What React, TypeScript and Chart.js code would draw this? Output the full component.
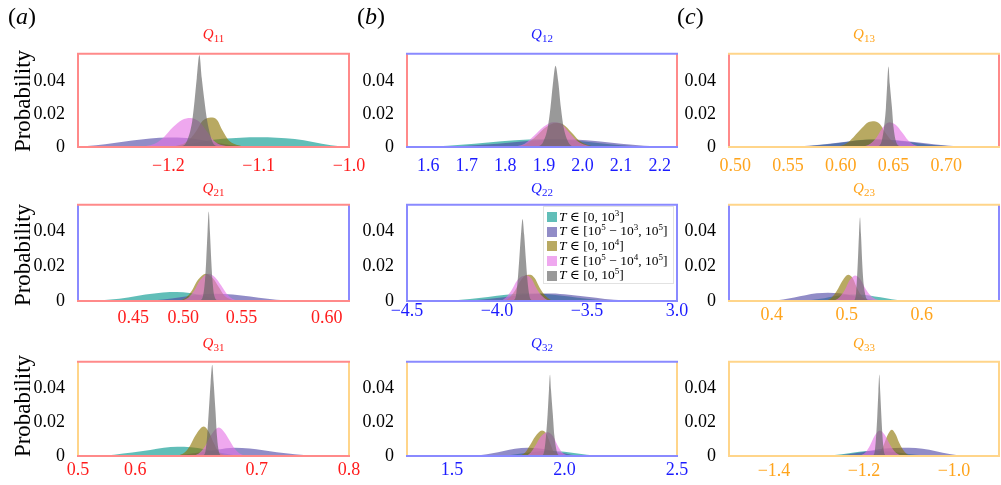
import React, { useEffect, useRef } from "react";
import { Chart, registerables } from "chart.js";
Chart.register(...registerables);

type Pt = [number, number];

// ---------- series meta ----------
const seriesLegend = ["[0, 10^3]", "[10^5 − 10^3, 10^5]", "[0, 10^4]", "[10^5 − 10^4, 10^5]", "[0, 10^5]"];
const seriesFill = [
  "rgba(0,150,141,0.62)",
  "rgba(77,69,164,0.62)",
  "rgba(141,117,1,0.62)",
  "rgba(229,115,229,0.62)",
  "rgba(98,98,98,0.65)",
];
const seriesOrder = [5, 4, 3, 2, 1];

// ---------- axis ticks ----------
const yTicks = [0, 0.02, 0.04];
const yTickLabels = ["0", "0.02", "0.04"];

const q11Range = [-1.3, -1.0];
const q11Ticks = [-1.2, -1.1, -1.0];
const q11Labels = ["−1.2", "−1.1", "−1.0"];
const q12Range = [1.545, 2.245];
const q12Ticks = [1.6, 1.7, 1.8, 1.9, 2.0, 2.1, 2.2];
const q12Labels = ["1.6", "1.7", "1.8", "1.9", "2.0", "2.1", "2.2"];
const q13Range = [0.494, 0.75];
const q13Ticks = [0.5, 0.55, 0.6, 0.65, 0.7];
const q13Labels = ["0.50", "0.55", "0.60", "0.65", "0.70"];
const q21Range = [0.4095, 0.6425];
const q21Ticks = [0.457, 0.5, 0.55, 0.6234];
const q21Labels = ["0.45", "0.50", "0.55", "0.60"];
const q22Range = [-4.5, -3.0];
const q22Ticks = [-4.5, -4.0, -3.5, -3.0];
const q22Labels = ["−4.5", "−4.0", "−3.5", "3.0"];
const q23Range = [0.343, 0.703];
const q23Ticks = [0.4, 0.5, 0.6];
const q23Labels = ["0.4", "0.5", "0.6"];
const q31Range = [0.5, 0.8];
const q31Ticks = [0.5, 0.5633, 0.6978, 0.8];
const q31Labels = ["0.5", "0.6", "0.7", "0.8"];
const q32Range = [1.3, 2.5];
const q32Ticks = [1.5, 2.0, 2.5];
const q32Labels = ["1.5", "2.0", "2.5"];
const q33Range = [-1.5, -0.9];
const q33Ticks = [-1.4, -1.2, -1.0];
const q33Labels = ["−1.4", "−1.2", "−1.0"];

// ---------- data (x, probability) ----------
const q11Teal: Pt[] = [[-1.2, 0], [-1.18, 0.0015], [-1.16, 0.0035], [-1.14, 0.005], [-1.12, 0.0057], [-1.1, 0.0059], [-1.08, 0.0057], [-1.06, 0.0048], [-1.04, 0.003], [-1.02, 0.001], [-1.0, 0]];
const q11Slate: Pt[] = [[-1.3, 0.0003], [-1.28, 0.001], [-1.26, 0.0025], [-1.24, 0.004], [-1.22, 0.0052], [-1.2, 0.0058], [-1.18, 0.0055], [-1.16, 0.004], [-1.14, 0.002], [-1.12, 0.0005], [-1.1, 0]];
const q11Olive: Pt[] = [[-1.195, 0], [-1.18, 0.003], [-1.17, 0.009], [-1.162, 0.016], [-1.153, 0.018], [-1.146, 0.0165], [-1.14, 0.01], [-1.133, 0.004], [-1.122, 0.001], [-1.11, 0]];
const q11Pink: Pt[] = [[-1.235, 0], [-1.215, 0.002], [-1.205, 0.006], [-1.195, 0.012], [-1.185, 0.0165], [-1.1756, 0.0177], [-1.166, 0.0155], [-1.158, 0.01], [-1.15, 0.004], [-1.14, 0.001], [-1.125, 0]];
const q11Gray: Pt[] = [[-1.186, 0], [-1.18, 0.003], [-1.1735, 0.016], [-1.171, 0.028], [-1.1685, 0.042], [-1.1656, 0.056], [-1.163, 0.042], [-1.16, 0.028], [-1.157, 0.016], [-1.151, 0.003], [-1.145, 0]];

const q12Teal: Pt[] = [[1.58, 0], [1.65, 0.0008], [1.72, 0.002], [1.79, 0.0035], [1.86, 0.0045], [1.92, 0.0047], [1.98, 0.004], [2.04, 0.0025], [2.1, 0.001], [2.16, 0.0002], [2.2, 0]];
const q12Slate: Pt[] = [[1.62, 0], [1.7, 0.0008], [1.78, 0.002], [1.85, 0.0035], [1.92, 0.0046], [1.98, 0.0045], [2.04, 0.0035], [2.1, 0.002], [2.16, 0.0008], [2.22, 0.0002], [2.245, 0]];
const q12Olive: Pt[] = [[1.826, 0], [1.856, 0.002], [1.881, 0.0068], [1.906, 0.0121], [1.931, 0.0146], [1.951, 0.0136], [1.971, 0.009], [1.991, 0.004], [2.016, 0.001], [2.036, 0]];
const q12Pink: Pt[] = [[1.82, 0], [1.85, 0.002], [1.875, 0.007], [1.9, 0.0125], [1.925, 0.0151], [1.945, 0.014], [1.965, 0.009], [1.985, 0.004], [2.01, 0.001], [2.03, 0]];
const q12Gray: Pt[] = [[1.885, 0], [1.898, 0.003], [1.91, 0.012], [1.917, 0.024], [1.924, 0.04], [1.93, 0.0494], [1.937, 0.04], [1.944, 0.024], [1.951, 0.012], [1.963, 0.003], [1.975, 0]];

const q13Teal: Pt[] = [[0.55, 0], [0.57, 0.0006], [0.59, 0.0018], [0.61, 0.0035], [0.627, 0.0045], [0.645, 0.0042], [0.665, 0.003], [0.685, 0.0013], [0.705, 0.0004], [0.72, 0]];
const q13Slate: Pt[] = [[0.55, 0], [0.575, 0.001], [0.595, 0.0025], [0.615, 0.004], [0.632, 0.0046], [0.65, 0.0043], [0.67, 0.003], [0.69, 0.0015], [0.71, 0.0005], [0.73, 0]];
const q13Olive: Pt[] = [[0.595, 0], [0.605, 0.002], [0.612, 0.006], [0.62, 0.0115], [0.626, 0.015], [0.6317, 0.0157], [0.637, 0.014], [0.642, 0.009], [0.648, 0.004], [0.655, 0.001], [0.662, 0]];
const q13Pink: Pt[] = [[0.62, 0], [0.628, 0.002], [0.634, 0.006], [0.64, 0.012], [0.646, 0.0151], [0.652, 0.0135], [0.658, 0.009], [0.664, 0.004], [0.67, 0.0012], [0.678, 0]];
const q13Gray: Pt[] = [[0.634, 0], [0.6385, 0.003], [0.641, 0.012], [0.6428, 0.024], [0.644, 0.038], [0.6452, 0.049], [0.6465, 0.038], [0.6485, 0.024], [0.65, 0.012], [0.6525, 0.003], [0.657, 0]];

const q21Teal: Pt[] = [[0.4225, 0], [0.4375, 0.0008], [0.4525, 0.002], [0.4675, 0.0037], [0.4825, 0.0049], [0.4945, 0.0052], [0.5055, 0.0046], [0.5155, 0.0032], [0.5255, 0.0015], [0.5355, 0.0004], [0.5455, 0]];
const q21Slate: Pt[] = [[0.4675, 0], [0.4825, 0.0008], [0.4975, 0.0022], [0.5125, 0.0036], [0.5275, 0.0042], [0.5425, 0.0038], [0.5575, 0.0026], [0.5725, 0.0013], [0.5875, 0.0004], [0.6025, 0]];
const q21Olive: Pt[] = [[0.4955, 0], [0.5025, 0.002], [0.5075, 0.006], [0.5125, 0.012], [0.5195, 0.0157], [0.5255, 0.013], [0.5305, 0.008], [0.5355, 0.003], [0.5405, 0.001], [0.5455, 0]];
const q21Pink: Pt[] = [[0.4975, 0], [0.5045, 0.002], [0.5095, 0.006], [0.5145, 0.012], [0.5219, 0.0157], [0.5275, 0.0135], [0.5325, 0.009], [0.5375, 0.004], [0.5425, 0.0012], [0.5495, 0]];
const q21Gray: Pt[] = [[0.514, 0], [0.517, 0.003], [0.5187, 0.012], [0.5197, 0.023], [0.5209, 0.04], [0.5219, 0.0514], [0.5229, 0.04], [0.5241, 0.023], [0.5251, 0.012], [0.5267, 0.003], [0.53, 0]];

const q22Teal: Pt[] = [[-4.3, 0], [-4.2, 0.0007], [-4.1, 0.0017], [-4.0, 0.003], [-3.9, 0.004], [-3.8, 0.0043], [-3.7, 0.0038], [-3.6, 0.0026], [-3.5, 0.0013], [-3.4, 0.0004], [-3.3, 0]];
const q22Slate: Pt[] = [[-4.2, 0], [-4.1, 0.0007], [-4.0, 0.0017], [-3.9, 0.003], [-3.8, 0.004], [-3.7, 0.0043], [-3.6, 0.0036], [-3.5, 0.0024], [-3.4, 0.0012], [-3.3, 0.0004], [-3.2, 0]];
const q22Olive: Pt[] = [[-3.96, 0], [-3.93, 0.002], [-3.9, 0.006], [-3.87, 0.0115], [-3.84, 0.0148], [-3.815, 0.0151], [-3.79, 0.013], [-3.765, 0.008], [-3.74, 0.004], [-3.71, 0.0012], [-3.68, 0]];
const q22Pink: Pt[] = [[-3.98, 0], [-3.95, 0.002], [-3.92, 0.006], [-3.89, 0.0115], [-3.86, 0.0142], [-3.835, 0.0147], [-3.81, 0.013], [-3.785, 0.008], [-3.76, 0.004], [-3.73, 0.0012], [-3.7, 0]];
const q22Gray: Pt[] = [[-3.91, 0], [-3.895, 0.003], [-3.885, 0.012], [-3.877, 0.023], [-3.867, 0.038], [-3.858, 0.047], [-3.849, 0.038], [-3.839, 0.023], [-3.831, 0.012], [-3.82, 0.003], [-3.805, 0]];

const q23Teal: Pt[] = [[0.44, 0], [0.455, 0.0007], [0.47, 0.0016], [0.485, 0.0028], [0.5, 0.0036], [0.515, 0.0038], [0.53, 0.0032], [0.545, 0.0021], [0.56, 0.001], [0.575, 0.0003], [0.59, 0]];
const q23Slate: Pt[] = [[0.4, 0], [0.415, 0.0008], [0.43, 0.002], [0.445, 0.0033], [0.46, 0.0044], [0.475, 0.0048], [0.49, 0.0044], [0.505, 0.0033], [0.52, 0.0018], [0.535, 0.0006], [0.55, 0]];
const q23Olive: Pt[] = [[0.472, 0], [0.48, 0.002], [0.487, 0.006], [0.494, 0.0115], [0.502, 0.0151], [0.508, 0.013], [0.513, 0.008], [0.518, 0.004], [0.524, 0.001], [0.53, 0]];
const q23Pink: Pt[] = [[0.482, 0], [0.49, 0.002], [0.497, 0.006], [0.504, 0.012], [0.511, 0.0147], [0.518, 0.0125], [0.525, 0.007], [0.532, 0.003], [0.54, 0.0008], [0.548, 0]];
const q23Gray: Pt[] = [[0.509, 0], [0.512, 0.003], [0.5135, 0.012], [0.5148, 0.023], [0.5163, 0.038], [0.5177, 0.048], [0.519, 0.038], [0.5205, 0.023], [0.522, 0.012], [0.525, 0.003], [0.529, 0]];

const q31Teal: Pt[] = [[0.52, 0], [0.54, 0.0008], [0.56, 0.002], [0.58, 0.0035], [0.595, 0.0048], [0.61, 0.0054], [0.625, 0.0052], [0.64, 0.004], [0.655, 0.0022], [0.67, 0.0008], [0.685, 0]];
const q31Slate: Pt[] = [[0.6, 0], [0.62, 0.001], [0.64, 0.0025], [0.655, 0.0038], [0.673, 0.0048], [0.69, 0.0044], [0.705, 0.0034], [0.72, 0.0022], [0.74, 0.001], [0.76, 0.0003], [0.775, 0]];
const q31Olive: Pt[] = [[0.61, 0], [0.618, 0.002], [0.624, 0.006], [0.63, 0.012], [0.6393, 0.0173], [0.645, 0.014], [0.65, 0.008], [0.655, 0.003], [0.66, 0.001], [0.666, 0]];
const q31Pink: Pt[] = [[0.628, 0], [0.635, 0.002], [0.641, 0.006], [0.647, 0.012], [0.656, 0.0168], [0.662, 0.014], [0.668, 0.009], [0.674, 0.004], [0.68, 0.0012], [0.688, 0]];
const q31Gray: Pt[] = [[0.638, 0], [0.6412, 0.003], [0.643, 0.012], [0.6448, 0.0266], [0.6468, 0.043], [0.6486, 0.0537], [0.6502, 0.043], [0.6522, 0.0266], [0.6538, 0.012], [0.6558, 0.003], [0.659, 0]];

const q32Teal: Pt[] = [[1.7, 0], [1.75, 0.0005], [1.8, 0.0013], [1.85, 0.0022], [1.9, 0.0029], [1.95, 0.003], [2.0, 0.0025], [2.05, 0.0016], [2.1, 0.0008], [2.15, 0.0002], [2.18, 0]];
const q32Slate: Pt[] = [[1.58, 0], [1.63, 0.0006], [1.68, 0.0016], [1.73, 0.003], [1.78, 0.0042], [1.836, 0.0048], [1.88, 0.0045], [1.93, 0.0035], [1.98, 0.002], [2.03, 0.0008], [2.08, 0]];
const q32Olive: Pt[] = [[1.8, 0], [1.825, 0.002], [1.845, 0.006], [1.87, 0.0115], [1.9, 0.015], [1.92, 0.013], [1.935, 0.008], [1.95, 0.003], [1.965, 0.001], [1.98, 0]];
const q32Pink: Pt[] = [[1.83, 0], [1.85, 0.002], [1.87, 0.006], [1.895, 0.0115], [1.925, 0.014], [1.95, 0.0115], [1.97, 0.006], [1.99, 0.002], [2.01, 0.0005], [2.03, 0]];
const q32Gray: Pt[] = [[1.9, 0], [1.91, 0.003], [1.918, 0.012], [1.925, 0.0247], [1.931, 0.039], [1.9356, 0.048], [1.94, 0.039], [1.948, 0.0247], [1.955, 0.012], [1.965, 0.003], [1.978, 0]];

const q33Teal: Pt[] = [[-1.29, 0], [-1.26, 0.0007], [-1.23, 0.0017], [-1.2, 0.0028], [-1.18, 0.003], [-1.16, 0.0029], [-1.13, 0.0022], [-1.1, 0.0012], [-1.07, 0.0004], [-1.04, 0]];
const q33Slate: Pt[] = [[-1.28, 0], [-1.25, 0.0006], [-1.22, 0.0016], [-1.19, 0.003], [-1.16, 0.0042], [-1.13, 0.0047], [-1.1, 0.0048], [-1.07, 0.0042], [-1.04, 0.0028], [-1.01, 0.0012], [-0.98, 0]];
const q33Olive: Pt[] = [[-1.175, 0], [-1.165, 0.002], [-1.157, 0.006], [-1.148, 0.012], [-1.1385, 0.0155], [-1.13, 0.013], [-1.122, 0.008], [-1.114, 0.004], [-1.105, 0.0012], [-1.095, 0]];
const q33Pink: Pt[] = [[-1.21, 0], [-1.197, 0.002], [-1.187, 0.006], [-1.176, 0.012], [-1.165, 0.015], [-1.154, 0.0125], [-1.143, 0.007], [-1.133, 0.003], [-1.122, 0.0008], [-1.11, 0]];
const q33Gray: Pt[] = [[-1.181, 0], [-1.176, 0.003], [-1.173, 0.012], [-1.1704, 0.024], [-1.168, 0.038], [-1.166, 0.048], [-1.164, 0.038], [-1.1615, 0.024], [-1.159, 0.012], [-1.156, 0.003], [-1.151, 0]];

const panels = [
  { sub: "11", range: q11Range, ticks: q11Ticks, labels: q11Labels, series: [q11Teal, q11Slate, q11Olive, q11Pink, q11Gray] },
  { sub: "12", range: q12Range, ticks: q12Ticks, labels: q12Labels, series: [q12Teal, q12Slate, q12Olive, q12Pink, q12Gray] },
  { sub: "13", range: q13Range, ticks: q13Ticks, labels: q13Labels, series: [q13Teal, q13Slate, q13Olive, q13Pink, q13Gray] },
  { sub: "21", range: q21Range, ticks: q21Ticks, labels: q21Labels, series: [q21Teal, q21Slate, q21Olive, q21Pink, q21Gray] },
  { sub: "22", range: q22Range, ticks: q22Ticks, labels: q22Labels, series: [q22Teal, q22Slate, q22Olive, q22Pink, q22Gray] },
  { sub: "23", range: q23Range, ticks: q23Ticks, labels: q23Labels, series: [q23Teal, q23Slate, q23Olive, q23Pink, q23Gray] },
  { sub: "31", range: q31Range, ticks: q31Ticks, labels: q31Labels, series: [q31Teal, q31Slate, q31Olive, q31Pink, q31Gray] },
  { sub: "32", range: q32Range, ticks: q32Ticks, labels: q32Labels, series: [q32Teal, q32Slate, q32Olive, q32Pink, q32Gray] },
  { sub: "33", range: q33Range, ticks: q33Ticks, labels: q33Labels, series: [q33Teal, q33Slate, q33Olive, q33Pink, q33Gray] },
];

// ---------- layout & style ----------
const COLS = [{ l: 78, r: 349 }, { l: 407, r: 677 }, { l: 729, r: 999 }];
const ROWS = [{ t: 52, b: 147 }, { t: 203, b: 301 }, { t: 360, b: 456 }];
const Y_W = 50, PAD_T = 14, PAD_R = 26, X_H = 32;
const yMaxByRow = [0.0567, 0.0552, 0.0554];
const xLabelPad = [[0, 0, 0], [-2, -8.5, -4.5], [-5, -5, -4]];
const tickColors = ["#ff1c1c", "#1c1cff", "#ffa41c"];
const frameColors = ["#ff8a8a", "#8a8aff", "#ffd58a"];
const titleY = [35, 189, 344];
const probY = [101, 255, 406];
const letters = [{ t: "a", x: 8 }, { t: "b", x: 357 }, { t: "c", x: 677 }];
const FONT = "'Liberation Serif', 'DejaVu Serif', serif";

function Panel({ idx }: { idx: number }) {
  const ref = useRef<HTMLCanvasElement | null>(null);
  const p = panels[idx];
  const row = Math.floor(idx / 3), col = idx % 3;
  const C = COLS[col], R = ROWS[row];
  const w = Y_W + (C.r - C.l) + PAD_R;
  const h = PAD_T + (R.b - R.t) + X_H;

  useEffect(() => {
    if (!ref.current) return;
    const frame = {
      id: "frame" + idx,
      afterDatasetsDraw(chart: any) {
        const { ctx, chartArea } = chart;
        const { left, right, top, bottom } = chartArea;
        ctx.save();
        ctx.lineWidth = 2;
        ctx.strokeStyle = frameColors[row];
        ctx.beginPath();
        ctx.moveTo(left, top); ctx.lineTo(left, bottom);
        ctx.moveTo(right, top); ctx.lineTo(right, bottom);
        ctx.stroke();
        ctx.strokeStyle = frameColors[col];
        ctx.beginPath();
        ctx.moveTo(left - 1, top); ctx.lineTo(right + 1, top);
        ctx.moveTo(left - 1, bottom); ctx.lineTo(right + 1, bottom);
        ctx.stroke();
        ctx.restore();
      },
    };
    const chart = new Chart(ref.current, {
      type: "line",
      data: {
        datasets: p.series.map((pts, i) => ({
          label: seriesLegend[i],
          data: pts.map(([x, y]) => ({ x, y })),
          backgroundColor: seriesFill[i],
          borderColor: "rgba(0,0,0,0)",
          borderWidth: 0,
          pointRadius: 0,
          fill: "origin",
          cubicInterpolationMode: "monotone",
          order: seriesOrder[i],
        })),
      } as any,
      options: {
        animation: false,
        responsive: false,
        events: [],
        layout: { padding: { left: 0, top: PAD_T, right: PAD_R, bottom: 0 } },
        plugins: { legend: { display: false }, tooltip: { enabled: false } },
        scales: {
          x: {
            type: "linear",
            min: p.range[0],
            max: p.range[1],
            grid: { display: false },
            border: { display: false },
            afterFit: (s: any) => { s.height = X_H; },
            afterBuildTicks: (s: any) => { s.ticks = p.ticks.map((v) => ({ value: v })); },
            ticks: {
              autoSkip: false,
              maxRotation: 0,
              minRotation: 0,
              padding: xLabelPad[row][col],
              color: tickColors[col],
              font: { family: FONT, size: 18 },
              callback: (_v: any, i: number) => p.labels[i],
            },
          },
          y: {
            type: "linear",
            min: 0,
            max: yMaxByRow[row],
            grid: { display: false },
            border: { display: false },
            afterFit: (s: any) => { s.width = Y_W; },
            afterBuildTicks: (s: any) => { s.ticks = yTicks.map((v) => ({ value: v })); },
            ticks: {
              padding: 5,
              color: "#000",
              font: { family: FONT, size: 18 },
              callback: (_v: any, i: number) => yTickLabels[i],
            },
          },
        },
      } as any,
      plugins: [frame],
    });
    return () => chart.destroy();
  }, [idx]);

  return (
    <canvas
      ref={ref}
      width={w}
      height={h}
      style={{ position: "absolute", left: C.l - Y_W, top: R.t - PAD_T, width: w, height: h }}
    />
  );
}

function LegendText({ s }: { s: string }) {
  const parts = s.split(/\^(\d)/);
  return (
    <span>
      <i>T</i> ∈ {parts.map((t, i) =>
        i % 2 === 1 ? (
          <span key={i} style={{ fontSize: 9, position: "relative", top: -5 }}>{t}</span>
        ) : (
          <span key={i}>{t}</span>
        )
      )}
    </span>
  );
}

export default function App() {
  return (
    <div
      style={{
        position: "fixed", left: 0, top: 0, width: 1001, height: 485,
        background: "#fff", overflow: "hidden", fontFamily: FONT,
      }}
    >
      {panels.map((_, i) => <Panel key={i} idx={i} />)}
      {panels.map((p, i) => {
        const row = Math.floor(i / 3), col = i % 3;
        const cx = (COLS[col].l + COLS[col].r) / 2;
        return (
          <div key={"t" + i} style={{
            position: "absolute", left: cx, top: titleY[row], transform: "translate(-50%,-50%)",
            color: tickColors[col], fontSize: 15, lineHeight: "15px", whiteSpace: "nowrap",
          }}>
            <i>Q</i><span style={{ fontSize: 11, position: "relative", top: 3 }}>{p.sub}</span>
          </div>
        );
      })}
      {probY.map((y, i) => (
        <div key={"p" + i} style={{
          position: "absolute", left: 22, top: y, transform: "translate(-50%,-50%) rotate(-90deg)",
          fontSize: 23, lineHeight: "23px", whiteSpace: "nowrap", color: "#000",
        }}>Probability</div>
      ))}
      {letters.map((l) => (
        <div key={l.t} style={{ position: "absolute", left: l.x, top: 2, fontSize: 24, lineHeight: "28px", color: "#000" }}>
          (<i>{l.t}</i>)
        </div>
      ))}
      <div style={{
        position: "absolute", left: 543, top: 206, width: 131, height: 78,
        background: "rgba(255,255,255,0.9)", border: "1px solid #e2e2e2", boxSizing: "border-box",
        paddingTop: 3, paddingLeft: 3,
      }}>
        {seriesLegend.map((s, i) => (
          <div key={i} style={{ display: "flex", alignItems: "center", height: 14.6, fontSize: 13.5, lineHeight: "14px", whiteSpace: "nowrap" }}>
            <span style={{ display: "inline-block", width: 10, height: 10, background: seriesFill[i], marginRight: 2 }} />
            <LegendText s={s} />
          </div>
        ))}
      </div>
    </div>
  );
}
